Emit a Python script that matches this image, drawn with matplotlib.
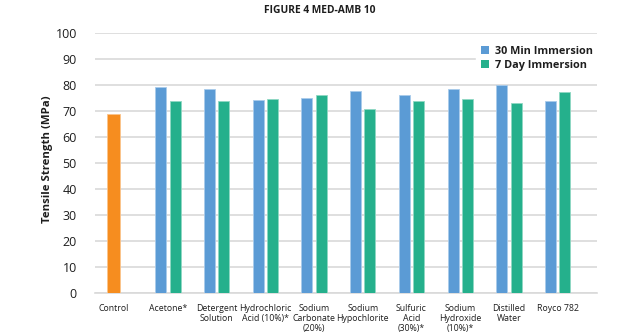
import matplotlib
matplotlib.use("Agg")
import matplotlib.pyplot as plt
import numpy as np
from matplotlib.patches import Patch

plt.rcParams['font.family'] = ['Open Sans', 'DejaVu Sans']

categories = ["Control", "Acetone*", "Detergent\nSolution", "Hydrochloric\nAcid (10%)*",
              "Sodium\nCarbonate\n(20%)", "Sodium\nHypochlorite", "Sulfuric\nAcid\n(30%)*",
              "Sodium\nHydroxide\n(10%)*", "Distilled\nWater", "Royco 782"]
control_value = 68.9
min30 = [79.4, 78.7, 74.4, 75.3, 77.7, 76.3, 78.5, 80.0, 74.0]
day7 = [74.1, 73.8, 74.8, 76.3, 70.8, 74.1, 74.9, 73.1, 77.3]
yticks = list(range(0, 101, 10))

c_blue = "#5B9BD5"
c_green = "#25B08C"
c_orange = "#F68D1F"
c_grid = "#D9D9D9"
c_text = "#1E1E1E"

fig = plt.figure(figsize=(6.4, 3.36), dpi=100)
ax = fig.add_axes([0.1484, 0.128, 0.7844, 0.7725])

x = np.arange(len(categories))
w = 0.226
off = 0.147

ax.bar(x[0] - 0.125, control_value, width=0.27, color=c_orange, edgecolor="#FBC48C", linewidth=0.6, zorder=3)
ax.bar(x[1:] - off, min30, width=w, color=c_blue, edgecolor="#A9CBEB", linewidth=0.6, zorder=3)
ax.bar(x[1:] + off, day7, width=w, color=c_green, edgecolor="#8FD8C3", linewidth=0.6, zorder=3)

ax.set_ylim(0, 100)
ax.set_xlim(-0.5, 9.81)
ax.set_yticks(yticks)
ax.yaxis.grid(True, color=c_grid, linewidth=1.2, zorder=0)
ax.set_axisbelow(True)
for s in ["top", "right", "left"]:
    ax.spines[s].set_visible(False)
ax.spines["bottom"].set_color(c_grid)
ax.spines["bottom"].set_linewidth(1.2)
ax.tick_params(axis="y", length=0, pad=13, labelsize=9, labelcolor=c_text)
tick_x = x.astype(float)
tick_x[0] -= 0.125
ax.set_xticks(tick_x)
ax.set_xticklabels(categories, fontsize=6.3, color=c_text, linespacing=1.12, va="top")
ax.tick_params(axis="x", length=0, pad=8)

ax.set_ylabel("Tensile Strength (MPa)", fontsize=8.2, fontweight="bold", color=c_text, va="center")
ax.yaxis.set_label_coords(-0.094, 0.515)

fig.text(0.5, 0.968, "FIGURE 4 MED-AMB 10", ha="center", va="center", fontsize=7.4, fontweight="bold", color=c_text)

handles = [Patch(facecolor=c_blue, edgecolor="none", label="30 Min Immersion"),
           Patch(facecolor=c_green, edgecolor="none", label="7 Day Immersion")]
leg = ax.legend(handles=handles, loc="upper right", bbox_to_anchor=(1.0, 0.97), frameon=True,
                fancybox=False, edgecolor="white", framealpha=1.0, borderaxespad=0,
                prop={"size": 7.8, "weight": "bold"}, handlelength=0.8, handleheight=0.8,
                handletextpad=0.5, labelspacing=0.3, borderpad=0.4)
for t in leg.get_texts():
    t.set_color(c_text)

fig.savefig("out.png", dpi=100)
